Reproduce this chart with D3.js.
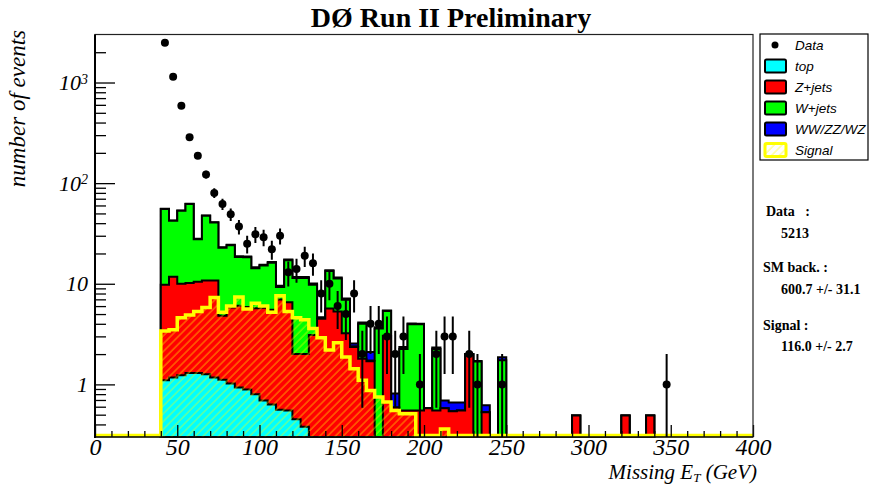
<!DOCTYPE html>
<html><head><meta charset="utf-8">
<script src="https://cdn.jsdelivr.net/npm/d3@7"></script>
<style>
body{margin:0;background:#fff;}
svg{display:block;}
</style></head><body>
<svg id="c" width="872" height="487"></svg>
<script>
// ---------- data ----------
const binLow = [40,45,50,55,60,65,70,75,80,85,90,95,100,105,110,115,120,125,130,135,140,145,150,155,160,165,170,175,180,185,190,195,200,205,210,215,220,225,230,235,240,245,290,320,335];
const binWidth = 5;
const topVals = [1.10,1.17,1.23,1.30,1.30,1.26,1.17,1.11,1.02,0.93,0.89,0.80,0.69,0.63,0.56,0.55,0.45,0.38,0.25,0.20,0.18,0.15,0.12,0.10,0.08,0.07,0.05,0.05,0.04,0.03,0.03,0.02,0.02,0.02,0.02,0.01,0.01,0.01,0.01,0.01,0.01,0.01,0,0,0];
const zjetsVals = [8.7,10.6,8.8,8.9,9.2,9.5,9.6,3.7,4.8,5.1,5.0,4.9,5.1,4.9,6.4,6.0,1.55,1.62,2.85,4.3,5.5,5.15,3.1,2.25,1.72,1.63,0.15,3.0,0.55,0.52,0.52,0.53,0.56,0.53,0.56,0.53,0.54,1.98,0.18,0.52,0.08,0.08,0.49,0.49,0.49];
const wjetsVals = [45.5,30.4,43.2,51.8,17.2,36.6,29.8,18.0,18.3,12.4,12.5,8.6,9.4,10.6,2.3,10.6,9.4,9.4,6.7,0.05,7.7,6.0,3.7,0.05,2.2,0.03,3.4,2.3,0,1.7,3.4,3.4,0,1.7,0,0,0,0,1.5,0,0.08,1.65,0,0,0];
const dibosonVals = [0.35,0.35,0.35,0.35,0.35,0.35,0.35,0.3,0.3,0.3,0.3,0.3,0.3,0.3,0.3,0.3,0.25,0.25,0.25,0.1,0.25,0.25,0.2,0.15,0.12,0.37,0.1,0.08,0.22,0.1,0.08,0.05,0,0.08,0.11,0.12,0.11,0.02,0.02,0.09,0.02,0.12,0,0,0];
const signalVals = [3.4,3.5,4.6,4.9,5.3,5.8,7.3,5.2,6.0,7.4,5.6,6.4,6.0,5.2,7.6,5.3,4.6,4.4,3.6,2.9,2.2,2.6,1.87,1.43,1.1,0.87,0.75,0.67,0.55,0.51,0.51,0.1,0.1,0.1,0.36,0.05,0.05,0.05,0.05,0.05,0.05,0.05,0,0,0];
const dataLow = [40,45,50,55,60,65,70,75,80,85,90,95,100,105,110,115,120,125,130,135,140,145,150,155,160,165,170,175,180,185,190,195,200,205,210,215,220,225,230,235,240,245,345];
const dataCounts = [2480,1140,586,286,187,122,80,62,49,37,25,31,29,22,30,13,14,19,16,8,10,6,5,8,2,4,4,3,2,3,0,1,0,2,3,3,0,2,1,0,0,1,1];
const xMajorTicks = [0,50,100,150,200,250,300,350,400];
const xMinorTicks = [10,20,30,40,60,70,80,90,110,120,130,140,160,170,180,190,210,220,230,240,260,270,280,290,310,320,330,340,360,370,380,390];
const yMajorTicks = [1,10,100,1000];
const yMinorTicks = [0.4,0.5,0.6,0.7,0.8,0.9,2,3,4,5,6,7,8,9,20,30,40,50,60,70,80,90,200,300,400,500,600,700,800,900,2000];
const legendLabels = ["Data","top","Z+jets","W+jets","WW/ZZ/WZ","Signal"];
const legendColors = [null,"#00ffff","#ff0000","#00ff00","#0000ff",null];
const statsLines = [["Data   :",0],["5213",1],["SM back. :",0],["600.7 +/- 31.1",1],["Signal :",0],["116.0 +/- 2.7",1]];

// ---------- layout ----------
const SERIF = "'Liberation Serif','Times New Roman',serif";
const SANS = "'Liberation Sans',Arial,sans-serif";
const X0=95, X1=753, Y0=34.5, Y1=437;
const x = d3.scaleLinear().domain([0,400]).range([X0,X1]);
const y = d3.scaleLog().domain([0.3,3000]).range([Y1,Y0]);
const svg = d3.select("#c");
const defs = svg.append("defs");
defs.append("clipPath").attr("id","clip").append("rect")
  .attr("x",X0).attr("y",Y0).attr("width",X1-X0).attr("height",Y1-Y0+1.5);
const pat = defs.append("pattern").attr("id","hatch").attr("patternUnits","userSpaceOnUse")
  .attr("width",5.5).attr("height",5.5).attr("patternTransform","rotate(45)");
pat.append("line").attr("x1",1).attr("y1",0).attr("x2",1).attr("y2",5.5)
  .attr("stroke","#ffff00").attr("stroke-width",1.1).attr("stroke-opacity",0.55);

const cum1 = topVals.slice();
const cum2 = cum1.map((v,i)=>v+zjetsVals[i]);
const cum3 = cum2.map((v,i)=>v+wjetsVals[i]);
const cum4 = cum3.map((v,i)=>v+dibosonVals[i]);

const ymin = y.domain()[0];
function yv(v){ return v>ymin ? y(v) : Y1; }

function stepArea(vals){
  let p = `M${x(binLow[0])},${Y1}`;
  let prevHi = binLow[0];
  binLow.forEach((lo,i)=>{
    if (lo !== prevHi) p += `L${x(prevHi)},${Y1}L${x(lo)},${Y1}`;
    const yy = yv(vals[i]);
    p += `L${x(lo)},${yy}L${x(lo+binWidth)},${yy}`;
    prevHi = lo+binWidth;
  });
  p += `L${x(prevHi)},${Y1}Z`;
  return p;
}
function stepLine(vals, floorY){
  const f = v => v>ymin ? y(v) : floorY;
  let p = `M${x(0)},${floorY}`;
  let prevHi = 0;
  binLow.forEach((lo,i)=>{
    if (lo !== prevHi) p += `L${x(prevHi)},${floorY}L${x(lo)},${floorY}`;
    const yy = f(vals[i]);
    p += `L${x(lo)},${yy}L${x(lo+binWidth)},${yy}`;
    prevHi = lo+binWidth;
  });
  p += `L${x(prevHi)},${floorY}L${x(400)},${floorY}`;
  return p;
}

const plot = svg.append("g").attr("clip-path","url(#clip)");
[[cum4,"#0000ff"],[cum3,"#00ff00"],[cum2,"#ff0000"],[cum1,"#00ffff"]].forEach(([vals,col])=>{
  plot.append("path").attr("d",stepArea(vals)).attr("fill",col)
    .attr("stroke","#000").attr("stroke-width",2).attr("stroke-linejoin","miter");
});
// signal (hatched + yellow outline)
plot.append("path").attr("d",stepArea(signalVals)).attr("fill","url(#hatch)").attr("stroke","none");
plot.append("path").attr("d",stepLine(signalVals, Y1-1.5)).attr("fill","none")
  .attr("stroke","#ffff00").attr("stroke-width",3.5).attr("stroke-linejoin","miter");

// ---------- axes ----------
function styleAxis(g, fs){
  g.select(".domain").remove();
  g.selectAll(".tick line").attr("stroke","#000").attr("stroke-width",1.3);
  g.selectAll("text").style("font-family",SERIF).style("font-style","italic")
    .style("font-size",fs+"px").attr("fill","#000");
}
const gxMin = svg.append("g").attr("transform",`translate(0,${Y1})`)
  .call(d3.axisBottom(x).tickValues(xMinorTicks).tickSize(-6).tickSizeOuter(0).tickFormat(""));
styleAxis(gxMin,1);
const gx = svg.append("g").attr("transform",`translate(0,${Y1})`)
  .call(d3.axisBottom(x).tickValues(xMajorTicks).tickSize(-12).tickSizeOuter(0).tickPadding(1).tickFormat(d3.format("d")));
styleAxis(gx,24);

const gyMin = svg.append("g").attr("transform",`translate(${X0},0)`)
  .call(d3.axisLeft(y).tickValues(yMinorTicks).tickSize(-11).tickSizeOuter(0).tickFormat(""));
styleAxis(gyMin,1);
const gy = svg.append("g").attr("transform",`translate(${X0},0)`)
  .call(d3.axisLeft(y).tickValues(yMajorTicks).tickSize(-20).tickSizeOuter(0).tickPadding(7).tickFormat(""));
styleAxis(gy,22);
gy.selectAll(".tick text").each(function(d){
  const t = d3.select(this);
  const e = Math.round(Math.log10(d));
  if (e <= 1) { t.text(String(d)); }
  else {
    t.text(null);
    t.append("tspan").text("10");
    t.append("tspan").attr("dy","-0.45em").style("font-size","14px").text(String(e));
  }
});

// frame
svg.append("rect").attr("x",X0).attr("y",Y0).attr("width",X1-X0).attr("height",Y1-Y0)
  .attr("fill","none").attr("stroke","#222").attr("stroke-width",1.2);
svg.append("line").attr("x1",X0).attr("x2",X0).attr("y1",Y0).attr("y2",Y1+1).attr("stroke","#000").attr("stroke-width",2);
svg.append("line").attr("x1",X0).attr("x2",X1).attr("y1",Y1).attr("y2",Y1).attr("stroke","#000").attr("stroke-width",1.2);

// ---------- data points ----------
const pts = dataLow.map((lo,i)=>({c:lo+binWidth/2, n:dataCounts[i]})).filter(d=>d.n>0);
const dg = svg.append("g").attr("clip-path","url(#clip)");
pts.forEach(d=>{
  const e = Math.sqrt(d.n);
  const yTop = y(d.n+e);
  const yBot = (d.n-e)>ymin ? y(d.n-e) : Y1;
  dg.append("line").attr("x1",x(d.c)).attr("x2",x(d.c)).attr("y1",yTop).attr("y2",yBot)
    .attr("stroke","#000").attr("stroke-width",2);
  dg.append("circle").attr("cx",x(d.c)).attr("cy",y(d.n)).attr("r",4).attr("fill","#000");
});

// ---------- titles ----------
svg.append("text").attr("x",451).attr("y",27).attr("text-anchor","middle")
  .style("font-family",SERIF).style("font-weight","bold").style("font-size","28px").text("DØ Run II Preliminary");
const xt = svg.append("text").attr("x",757).attr("y",479).attr("text-anchor","end")
  .style("font-family",SERIF).style("font-style","italic").style("font-size","21px");
xt.append("tspan").text("Missing E");
xt.append("tspan").style("font-size","13px").attr("dy",3).text("T");
xt.append("tspan").attr("dy",-3).text(" (GeV)");
svg.append("text").attr("transform","translate(25,30) rotate(-90)").attr("text-anchor","end")
  .style("font-family",SERIF).style("font-style","italic").style("font-size","23px").text("number of events");

// ---------- legend ----------
const lg = svg.append("g");
lg.append("rect").attr("x",760).attr("y",34).attr("width",108).attr("height",126)
  .attr("fill","#fff").attr("stroke","#000").attr("stroke-width",1.2);
legendLabels.forEach((lab,i)=>{
  const cy = 45 + i*21;
  if (i===0) {
    lg.append("circle").attr("cx",775).attr("cy",cy).attr("r",3.5).attr("fill","#000");
  } else if (lab==="Signal") {
    lg.append("rect").attr("x",765).attr("y",cy-6.5).attr("width",21).attr("height",13)
      .attr("fill","#fff").attr("stroke","#ffff00").attr("stroke-width",3).attr("rx",1.5);
    lg.append("rect").attr("x",765).attr("y",cy-6.5).attr("width",21).attr("height",13)
      .attr("fill","url(#hatch)");
  } else {
    lg.append("rect").attr("x",765).attr("y",cy-6.5).attr("width",21).attr("height",13)
      .attr("fill",legendColors[i]).attr("stroke","#000").attr("stroke-width",2).attr("rx",1.5);
  }
  lg.append("text").attr("x",795).attr("y",cy+5).style("font-family",SANS)
    .style("font-style","italic").style("font-size","13.5px").text(lab);
});

// ---------- stats ----------
const statY = [216,238,272,294,330,351];
statsLines.forEach(([t,ind],i)=>{
  svg.append("text").attr("x", ind ? 781 : (i===0?766:763)).attr("y",statY[i])
    .style("font-family",SERIF).style("font-weight","bold").style("font-size","14px")
    .style("white-space","pre").text(t);
});
</script>
</body></html>
